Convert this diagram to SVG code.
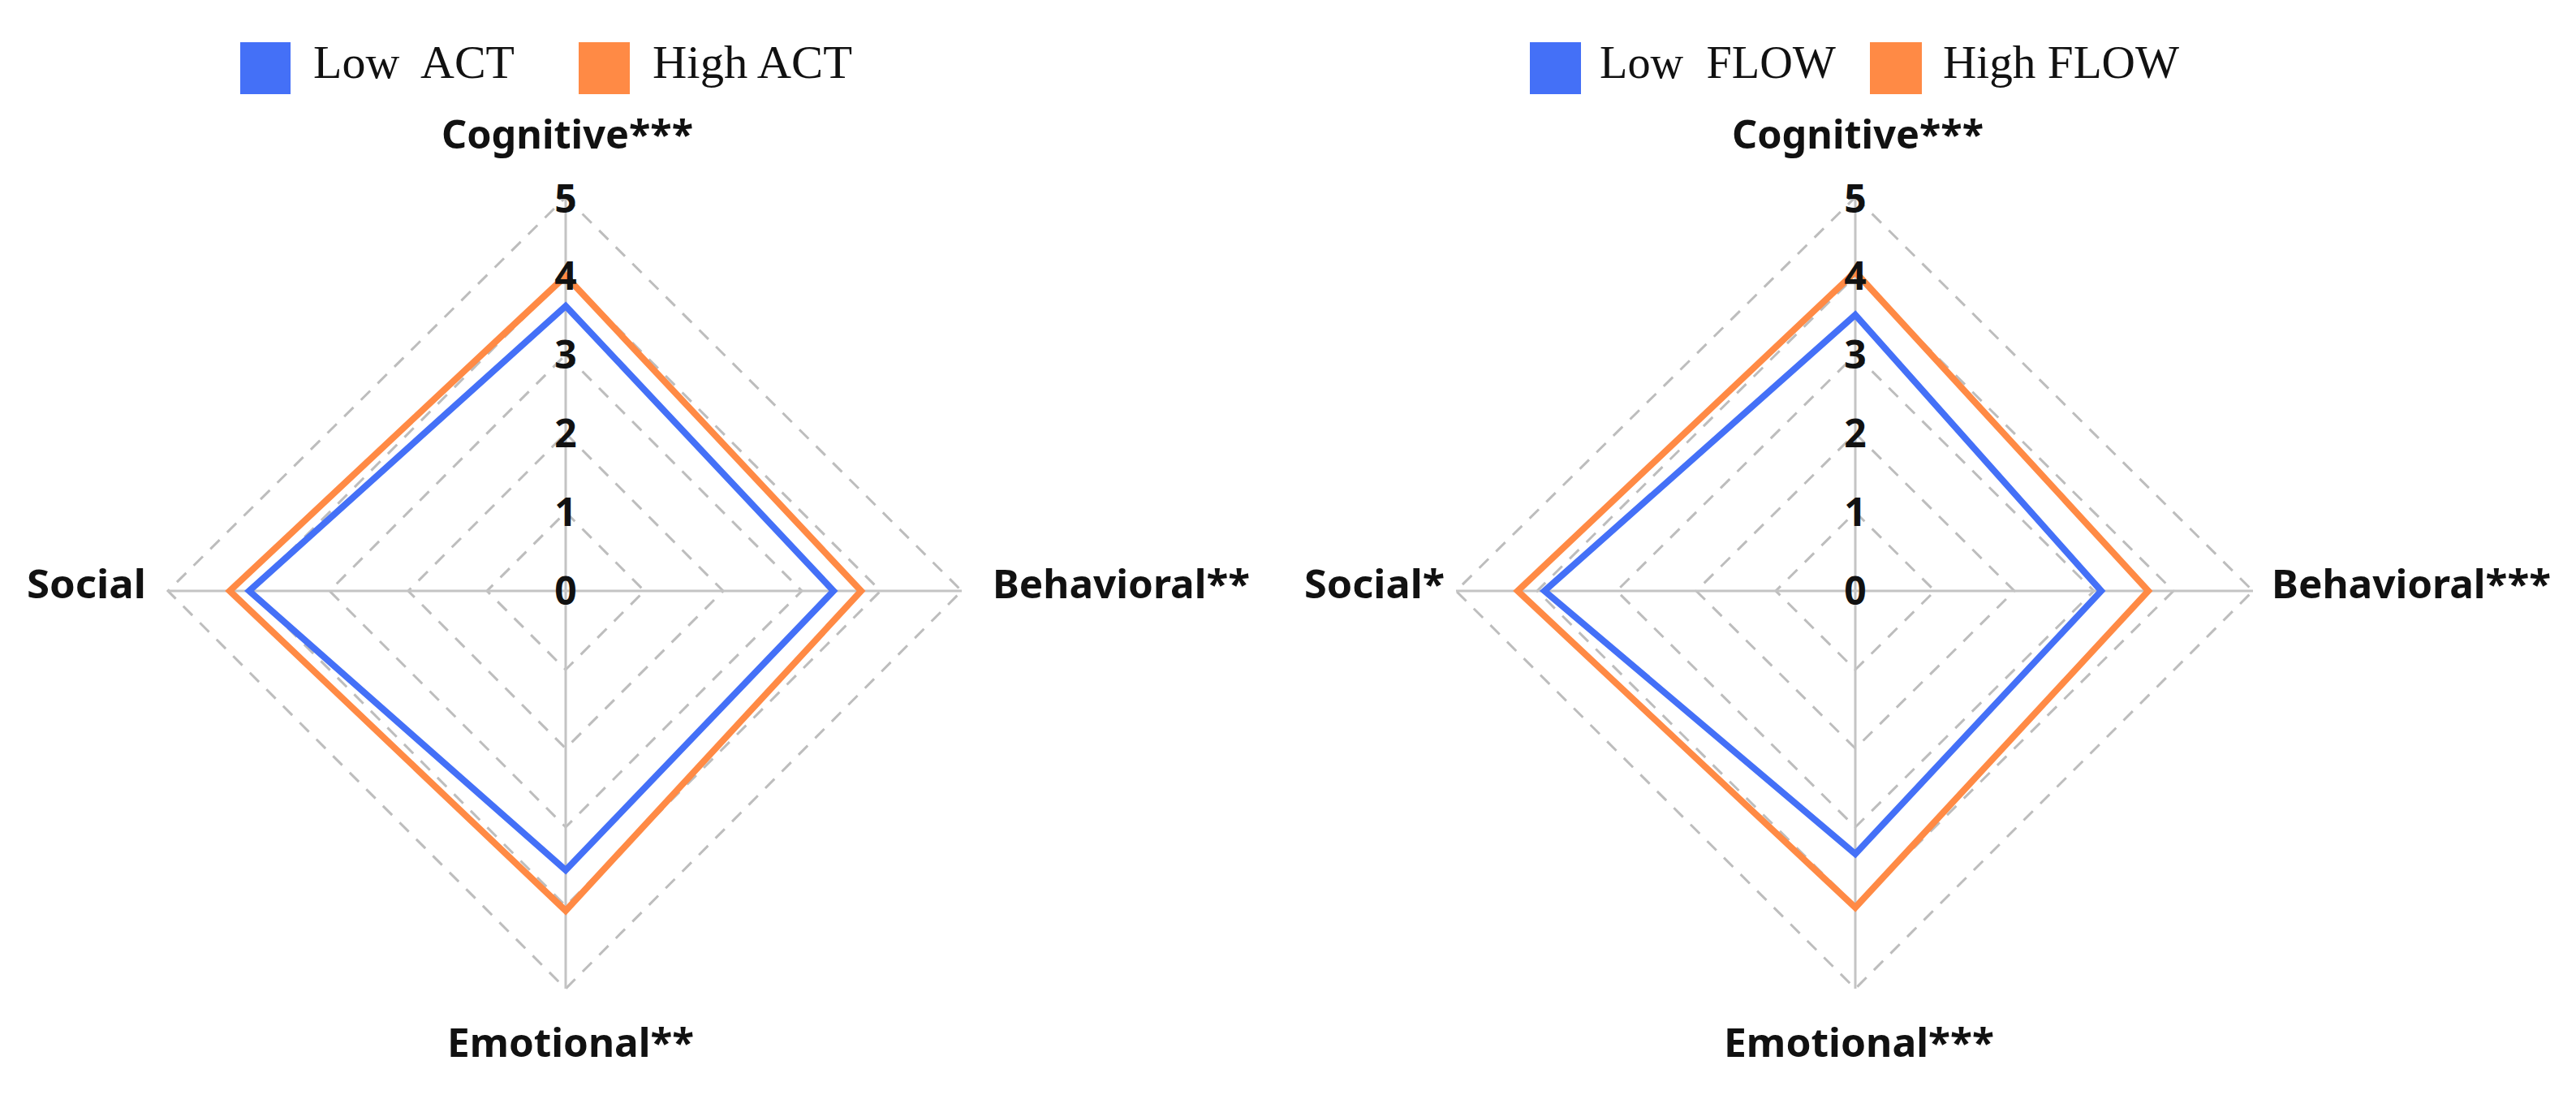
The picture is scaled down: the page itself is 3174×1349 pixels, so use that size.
<svg xmlns="http://www.w3.org/2000/svg" width="3174" height="1349" viewBox="0 0 3174 1349">
<style>
.ax{stroke:#c4c4c4;stroke-width:3;fill:none}
.ring{stroke:#bdbdbd;stroke-width:3;fill:none;stroke-dasharray:16 13}
.lo{stroke:#4470f7;stroke-width:8;fill:none;stroke-linejoin:miter}
.hi{stroke:#ff8a45;stroke-width:8;fill:none;stroke-linejoin:miter}
.lab{font-family:"Noto Sans","DejaVu Sans",sans-serif;font-weight:bold;font-size:48px;fill:#111}
.num{font-family:"Noto Sans","DejaVu Sans",sans-serif;font-weight:bold;font-size:48px;fill:#111;text-anchor:middle}
.leg{font-family:"Liberation Serif",serif;font-size:58px;fill:#111}
</style>
<rect width="3174" height="1349" fill="#fff"/>
<g id="chart-left">
<g class="grid">
<path class="ring" d="M697,631 L794,728 L697,825 L600,728 Z"/>
<path class="ring" d="M697,534 L891,728 L697,922 L503,728 Z"/>
<path class="ring" d="M697,437 L988,728 L697,1019 L406,728 Z"/>
<path class="ring" d="M697,340 L1085,728 L697,1116 L309,728 Z"/>
<path class="ring" d="M697,243 L1185,728 L697,1218 L207,728 Z"/>
<path class="ax" d="M697,243 V1218 M207,728 H1185"/>
</g>
<path class="hi" d="M697,340 L1061,728 L697,1122 L283,728 Z"/>
<path class="lo" d="M697,377 L1027,728 L697,1072 L307,728 Z"/>
<g id="left-scale">
<text class="num" x="697" y="745">0</text>
<text class="num" x="697" y="648">1</text>
<text class="num" x="697" y="551">2</text>
<text class="num" x="697" y="454">3</text>
<text class="num" x="697" y="357">4</text>
<text class="num" x="697" y="262">5</text>
</g>
<text class="lab" x="544" y="183" textLength="310" lengthAdjust="spacingAndGlyphs">Cognitive***</text>
<text class="lab" x="1223" y="737" textLength="317" lengthAdjust="spacingAndGlyphs">Behavioral**</text>
<text class="lab" x="33" y="737" textLength="147" lengthAdjust="spacingAndGlyphs">Social</text>
<text class="lab" x="551" y="1302" textLength="304" lengthAdjust="spacingAndGlyphs">Emotional**</text>
<g id="legend-left">
<rect x="296" y="52" width="62" height="64" fill="#4470f7"/>
<text class="leg" x="386" y="96" textLength="248" lengthAdjust="spacingAndGlyphs" xml:space="preserve">Low  ACT</text>
<rect x="713" y="52" width="63" height="64" fill="#ff8a45"/>
<text class="leg" x="804" y="96" textLength="246" lengthAdjust="spacingAndGlyphs">High ACT</text>
</g>
</g>
<g id="chart-right">
<g class="grid">
<path class="ring" d="M2286,631 L2384,728 L2286,825 L2188,728 Z"/>
<path class="ring" d="M2286,534 L2482,728 L2286,922 L2090,728 Z"/>
<path class="ring" d="M2286,437 L2580,728 L2286,1019 L1992,728 Z"/>
<path class="ring" d="M2286,340 L2678,728 L2286,1116 L1894,728 Z"/>
<path class="ring" d="M2286,243 L2776,728 L2286,1218 L1794,728 Z"/>
<path class="ax" d="M2286,243 V1218 M1794,728 H2776"/>
</g>
<path class="hi" d="M2286,335 L2647,728 L2286,1118 L1870,728 Z"/>
<path class="lo" d="M2286,388 L2589,728 L2286,1052 L1903,728 Z"/>
<g id="right-scale">
<text class="num" x="2286" y="745">0</text>
<text class="num" x="2286" y="648">1</text>
<text class="num" x="2286" y="551">2</text>
<text class="num" x="2286" y="454">3</text>
<text class="num" x="2286" y="357">4</text>
<text class="num" x="2286" y="262">5</text>
</g>
<text class="lab" x="2134" y="183" textLength="310" lengthAdjust="spacingAndGlyphs">Cognitive***</text>
<text class="lab" x="2799" y="737" textLength="344" lengthAdjust="spacingAndGlyphs">Behavioral***</text>
<text class="lab" x="1607" y="737" textLength="173" lengthAdjust="spacingAndGlyphs">Social*</text>
<text class="lab" x="2124" y="1302" textLength="333" lengthAdjust="spacingAndGlyphs">Emotional***</text>
<g id="legend-right">
<rect x="1885" y="52" width="63" height="64" fill="#4470f7"/>
<text class="leg" x="1971" y="96" textLength="291" lengthAdjust="spacingAndGlyphs" xml:space="preserve">Low  FLOW</text>
<rect x="2304" y="52" width="64" height="64" fill="#ff8a45"/>
<text class="leg" x="2394" y="96" textLength="291" lengthAdjust="spacingAndGlyphs">High FLOW</text>
</g>
</g>
</svg>
